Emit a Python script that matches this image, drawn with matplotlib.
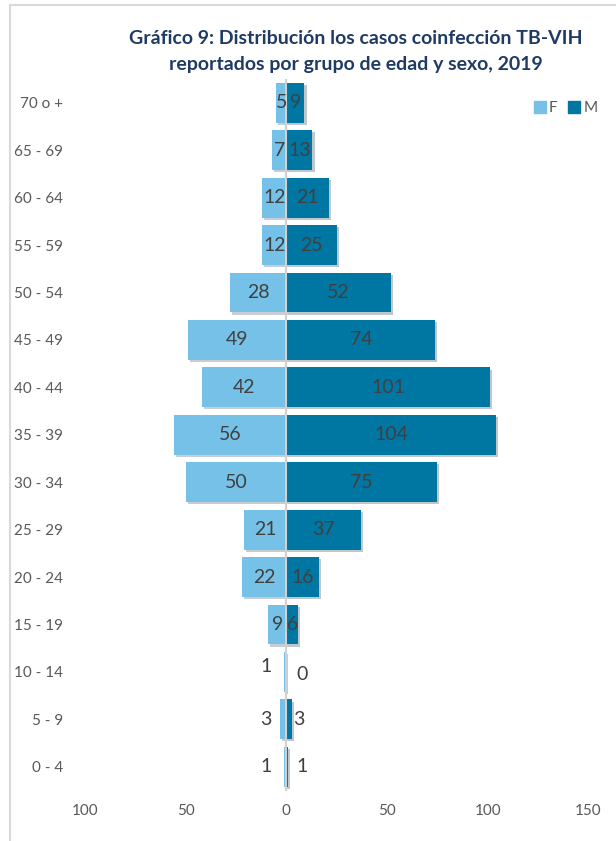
import matplotlib
matplotlib.use("Agg")
import matplotlib.pyplot as plt
import matplotlib.patheffects as pe
from matplotlib.lines import Line2D

plt.rcParams['font.family'] = ['Lato', 'DejaVu Sans']

edades = ["0 - 4", "5 - 9", "10 - 14", "15 - 19", "20 - 24", "25 - 29", "30 - 34",
          "35 - 39", "40 - 44", "45 - 49", "50 - 54", "55 - 59", "60 - 64", "65 - 69", "70 o +"]
femenino = [1, 3, 1, 9, 22, 21, 50, 56, 42, 49, 28, 12, 12, 7, 5]
masculino = [1, 3, 0, 6, 16, 37, 75, 104, 101, 74, 52, 25, 21, 13, 9]
x_ticks = [-100, -50, 0, 50, 100, 150]
x_ticklabels = ["100", "50", "0", "50", "100", "150"]

col_f = "#75C1E8"
col_m = "#0076A3"
gris = "#595959"

fig = plt.figure(figsize=(6.16, 8.41), dpi=100)
ax = fig.add_axes([0.138, 0.06, 0.817, 0.846])

y = list(range(len(edades)))
sombra = [pe.SimplePatchShadow(offset=(1.5, -1.5), alpha=0.25), pe.Normal()]
bf = ax.barh(y, [-v for v in femenino], height=0.84, color=col_f, zorder=2)
bm = ax.barh(y, masculino, height=0.84, color=col_m, zorder=2)
for b in list(bf) + list(bm):
    b.set_path_effects(sombra)

ax.axvline(0, color="#D0D0D0", lw=1.5, zorder=3)

for i in y:
    f, m = femenino[i], masculino[i]
    if f <= 3:
        ax.text(-10, i + (0.12 if m == 0 else 0), str(f), ha="center", va="center",
                fontsize=14, color="#404040", zorder=4)
    else:
        ax.text(-f / 2, i, str(f), ha="center", va="center", fontsize=14,
                color="#404040", zorder=4)
    if m <= 3:
        ax.text(8 if m < 3 else 6, i - (0.05 if m == 0 else 0), str(m), ha="center",
                va="center", fontsize=14, color="#404040", zorder=4)
    else:
        ax.text(m / 2, i, str(m), ha="center", va="center", fontsize=14,
                color="#404040", zorder=4)

ax.set_xlim(-100, 150)
ax.set_ylim(-0.5, len(edades) - 0.5)
ax.set_yticks(y)
ax.set_yticklabels(edades)
ax.set_xticks(x_ticks)
ax.set_xticklabels(x_ticklabels)
ax.tick_params(axis="both", length=0, colors=gris, labelsize=11)
ax.tick_params(axis="y", pad=16)
ax.tick_params(axis="x", pad=10)
for s in ax.spines.values():
    s.set_visible(False)

handles = [Line2D([], [], marker="s", ls="", color=col_f, markersize=9),
           Line2D([], [], marker="s", ls="", color=col_m, markersize=9)]
fig.legend(handles, ["F", "M"], loc="center", bbox_to_anchor=(0.917, 0.871), ncol=2,
           frameon=False, fontsize=11, labelcolor=gris, handletextpad=0.1,
           columnspacing=0.6, handlelength=1.0)

fig.text(0.577, 0.939, "Gráfico 9: Distribución los casos coinfección TB-VIH\n"
         "reportados por grupo de edad y sexo, 2019", ha="center", va="center",
         fontsize=14, fontweight="bold", color="#1F3B64", linespacing=1.6)

# marco del gráfico
fig.add_artist(Line2D([0.016, 0.016], [0, 0.994], color="#D9D9D9", lw=1.5))
fig.add_artist(Line2D([0.016, 1.0], [0.994, 0.994], color="#D9D9D9", lw=1.5))

fig.savefig("out.png", dpi=100)
